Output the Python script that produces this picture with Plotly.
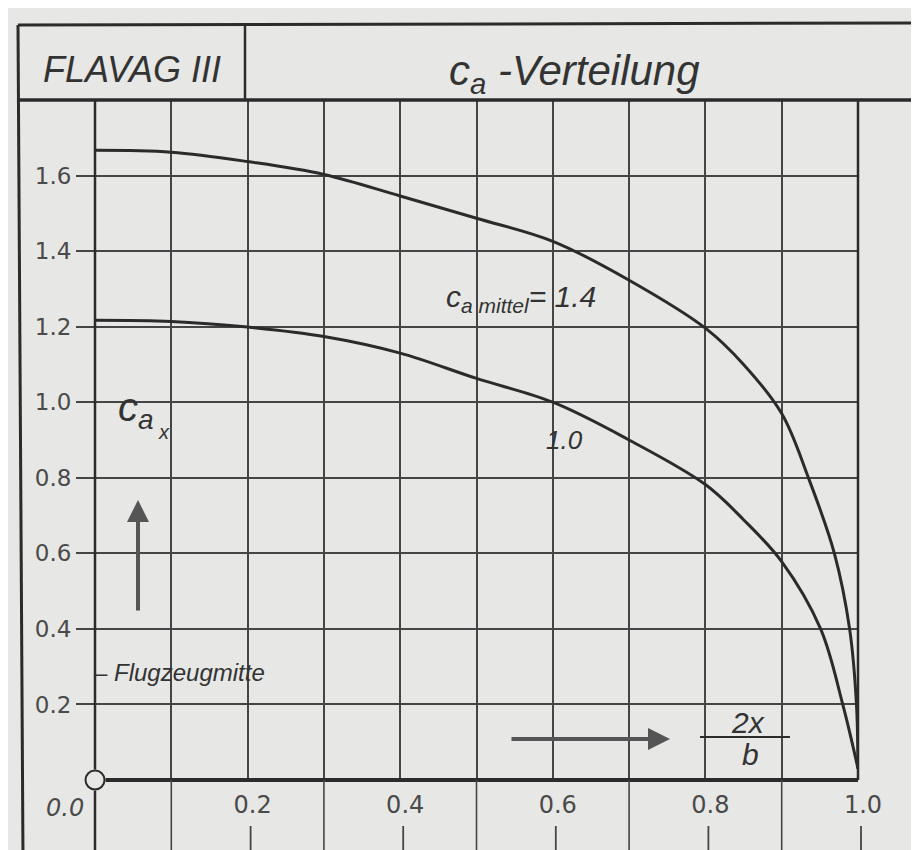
import plotly.graph_objects as go

# ---------------- data ----------------
span_upper = [0.0, 0.1, 0.2, 0.3, 0.4, 0.5, 0.6, 0.7, 0.8, 0.85, 0.9, 0.935, 0.969, 0.989, 0.998, 1.0]
ca_upper = [1.667, 1.662, 1.637, 1.603, 1.546, 1.487, 1.426, 1.323, 1.196, 1.10, 0.97, 0.80, 0.60, 0.40, 0.20, 0.03]

span_lower = [0.0, 0.1, 0.2, 0.3, 0.4, 0.5, 0.6, 0.7, 0.8, 0.85, 0.9, 0.951, 0.98, 1.0]
ca_lower = [1.217, 1.214, 1.199, 1.174, 1.130, 1.063, 1.0, 0.90, 0.782, 0.689, 0.578, 0.40, 0.20, 0.03]

x_tick_vals = [0.2, 0.4, 0.6, 0.8, 1.0]
x_tick_text = ["0.2", "0.4", "0.6", "0.8", "1.0"]
x_minor_vals = [0.1, 0.3, 0.5, 0.7, 0.9]
y_tick_vals = [0.2, 0.4, 0.6, 0.8, 1.0, 1.2, 1.4, 1.6]
y_tick_text = ["0.2", "0.4", "0.6", "0.8", "1.0", "1.2", "1.4", "1.6"]
origin_label = "0.0"

title_left = "FLAVAG III"
title_right = "c<sub>a</sub> -Verteilung"
label_upper = "c<sub>a</sub><sub> mittel</sub>= 1.4"
label_lower = "1.0"
y_title_main = "c<sub>a</sub>"
y_title_sub = "x"
note_center = "– Flugzeugmitte"
x_title_num = "2x"
x_title_den = "b"

# ---------------- geometry ----------------
W, H = 919, 850
L, R = 87, 850      # pixel x of 0.0 and 1.0
T, B = 92, 772      # pixel y of 1.8 and 0.0
X_MAX, Y_MAX = 1.0, 1.8

def px(xp):
    return (xp - L) / (R - L)

def py(yp):
    return (B - yp) / (B - T)

BG = "#e7e7e5"
INK = "#2b2b2b"
GRID = "#454545"
TXT = "#4a4a4a"

fig = go.Figure()

fig.add_trace(go.Scatter(
    x=span_upper, y=ca_upper, mode="lines",
    line=dict(color=INK, width=3, shape="spline", smoothing=1.0),
    cliponaxis=False, showlegend=False, hoverinfo="skip"))
fig.add_trace(go.Scatter(
    x=span_lower, y=ca_lower, mode="lines",
    line=dict(color=INK, width=3, shape="spline", smoothing=1.0),
    cliponaxis=False, showlegend=False, hoverinfo="skip"))
fig.add_trace(go.Scatter(
    x=[0.0], y=[0.0], mode="markers",
    marker=dict(symbol="circle", size=19, color=BG, line=dict(color=INK, width=2)),
    cliponaxis=False, showlegend=False, hoverinfo="skip"))

shapes = []

def seg(x0, y0, x1, y1, w=2.0, c=INK):
    shapes.append(dict(type="line", xref="paper", yref="paper",
                       x0=x0, y0=y0, x1=x1, y1=y1,
                       line=dict(color=c, width=w)))

r0 = 10.5 / (R - L)          # circle radius in x paper units
ry0 = 10.5 / (B - T)         # circle radius in y paper units
# outer frame
seg(px(10), py(17), px(914), py(15), 3)
seg(px(10), py(17), px(15), py(850), 3)
seg(px(914), py(15), px(914), py(846), 2.5)
seg(px(385), py(849), px(914), py(845), 3)
# title box
seg(px(10), 1.0, px(914), 1.0, 3.5)
seg(px(237), 1.0, px(237), py(16), 2.5)
# axes at 0 and edges of grid
seg(r0, 0.0, 1.0, 0.0, 4)
seg(0.0, ry0, 0.0, 1.0, 2.5)
seg(0.0, -ry0, 0.0, py(850), 2.5)
seg(1.0, 0.0, 1.0, 1.0, 2.5)
# vertical lines continuing below the axis
for v in x_minor_vals:
    seg(v, 0.0, v, py(846), 1.6, GRID)
# short marks below the tick labels
for v in x_tick_vals:
    seg(v + 3 / (R - L), py(818), v + 3 / (R - L), py(842), 1.8, GRID)
# fraction bar of 2x/b
seg(px(692), py(729), px(782), py(729), 2)

ann = []

def text(x, y, s, size, italic=True, family="Liberation Sans", color=INK,
         xanchor="center", yanchor="middle"):
    ann.append(dict(x=x, y=y, xref="paper", yref="paper", text=s, showarrow=False,
                    xanchor=xanchor, yanchor=yanchor,
                    font=dict(size=size, family=family, color=color,
                              style="italic" if italic else "normal")))

text(px(124), py(62), title_left, 36, color="#333")
text(px(566), py(66), title_right, 42, color="#333")
text(px(513), py(290), label_upper, 30, color="#333")
text(px(556), py(432), label_lower, 26, color="#333")
text(px(128), py(402), y_title_main, 40, color="#333")
text(px(156), py(424), y_title_sub, 20, color="#333")
text(px(83), py(664), note_center, 24, color="#333", xanchor="left")
text(px(740), py(714), x_title_num, 30, color="#333")
text(px(742), py(746), x_title_den, 30, color="#333")
text(px(57), py(800), origin_label, 24, color=TXT, family="DejaVu Sans")

# arrows
ann.append(dict(x=px(130), y=py(492), xref="paper", yref="paper", text="",
                showarrow=True, ax=0, ay=112, arrowhead=2, arrowsize=1.1,
                arrowwidth=4, arrowcolor="#555"))
ann.append(dict(x=px(662), y=py(731), xref="paper", yref="paper", text="",
                showarrow=True, ax=-160, ay=0, arrowhead=2, arrowsize=1.1,
                arrowwidth=4, arrowcolor="#555"))

fig.update_layout(
    width=W, height=H, autosize=False,
    margin=dict(l=L, r=W - R, t=T, b=H - B, pad=0),
    paper_bgcolor=BG, plot_bgcolor=BG,
    shapes=shapes, annotations=ann, showlegend=False,
    xaxis=dict(range=[0, X_MAX], tickmode="array", tickvals=x_tick_vals, ticktext=x_tick_text,
               showgrid=True, gridcolor=GRID, gridwidth=1.6, zeroline=False, showline=False,
               ticks="", ticklabelshift=5, ticklabelstandoff=8,
               tickfont=dict(family="DejaVu Sans", size=24, color=TXT),
               minor=dict(tickmode="array", tickvals=x_minor_vals, showgrid=True,
                          gridcolor=GRID, gridwidth=1.6, ticks=""),
               fixedrange=True),
    yaxis=dict(range=[0, Y_MAX], tickmode="array", tickvals=y_tick_vals, ticktext=y_tick_text,
               showgrid=True, gridcolor=GRID, gridwidth=1.6, zeroline=False, showline=False,
               ticks="outside", ticklen=18, tickwidth=1.6, tickcolor=GRID,
               tickfont=dict(family="DejaVu Sans", size=23, color=TXT),
               fixedrange=True),
)

fig.write_html("out.html")
